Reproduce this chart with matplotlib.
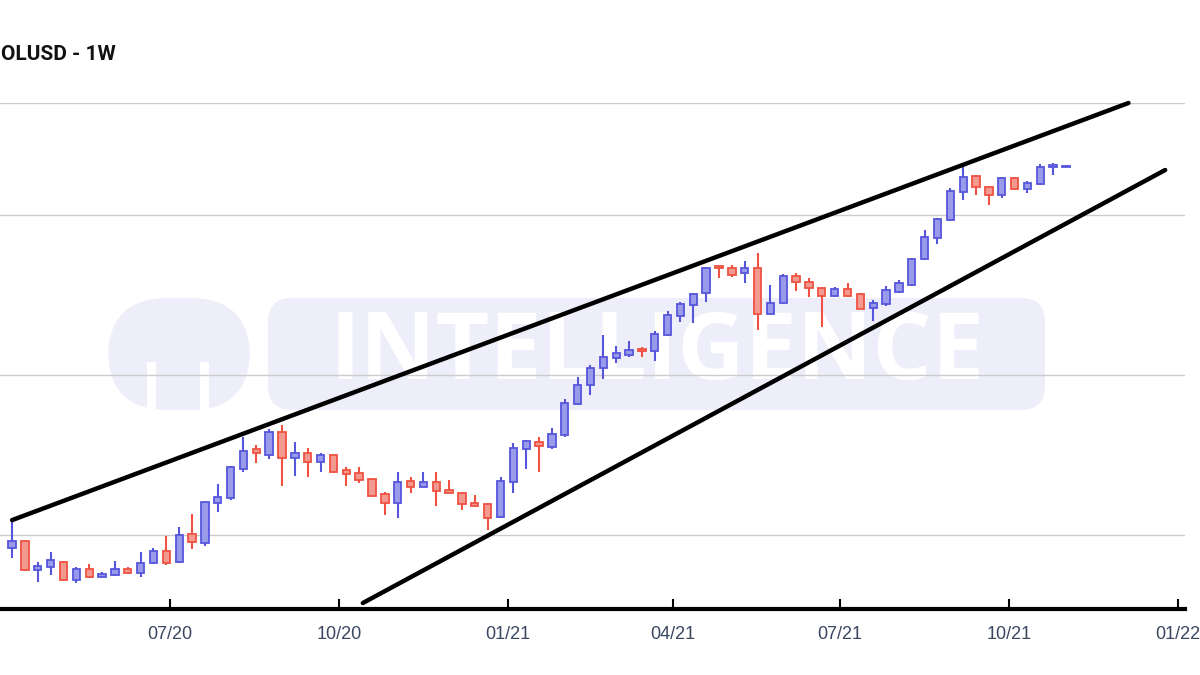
import matplotlib
matplotlib.use("Agg")
import matplotlib.pyplot as plt
import matplotlib.dates as mdates
from matplotlib.patches import FancyBboxPatch, Rectangle
from matplotlib.ticker import NullLocator, FixedLocator
import pandas as pd
import numpy as np

# ---------------- data ----------------
title = "OLUSD - 1W"
watermark = "INTELLIGENCE"
first_week = "2020-04-06"
n_weeks = 83

opens = [0.83, 0.92, 0.604, 0.631, 0.678, 0.523, 0.613, 0.546, 0.562, 0.613,
         0.579, 0.668, 0.794, 0.678, 1.014, 0.891, 1.585, 1.704, 2.587, 3.448,
         3.162, 4.404, 3.028, 3.255, 2.860, 3.162, 2.550, 2.442, 2.239, 1.804,
         1.585, 2.176, 1.995, 2.145, 1.911, 1.830, 1.585, 1.562, 1.296, 2.145,
         3.448, 3.813, 3.548, 4.217, 6.589, 8.660, 11.06, 12.77, 13.34, 14.54,
         14.13, 17.78, 23.37, 27.38, 32.56, 48.02, 46.65, 43.42, 46.65, 24.06,
         28.18, 41.58, 38.17, 35.00, 31.18, 34.50, 32.09, 26.23, 27.78, 33.04,
         36.52, 53.07, 71.82, 93.06, 139.2, 175.5, 149.6, 133.4, 170.5, 145.4,
         156.3, 199.5, 200.4]
highs = [1.24, 0.93, 0.678, 0.783, 0.688, 0.631, 0.659, 0.587, 0.688, 0.631,
         0.783, 0.829, 0.986, 1.122, 1.353, 1.631, 2.084, 2.700, 4.097, 3.652,
         4.599, 4.870, 3.813, 3.498, 3.255, 3.17, 2.661, 2.661, 2.25, 1.857,
         2.477, 2.305, 2.477, 2.477, 2.208, 1.857, 1.778, 1.585, 2.305, 3.758,
         3.925, 4.097, 4.666, 7.079, 9.716, 11.55, 17.78, 15.18, 16.31, 14.96,
         18.80, 25.12, 28.59, 32.56, 47.32, 48.70, 48.70, 51.52, 57.87, 36.52,
         42.80, 43.42, 40.39, 35.1, 35.52, 37.62, 32.56, 29.43, 36.03, 39.26,
         53.85, 80.59, 95.80, 147.5, 202.4, 177.8, 151.8, 173.0, 173.0, 163.2,
         208.4, 211.3, 205.4]
lows = [0.72, 0.595, 0.508, 0.562, 0.516, 0.501, 0.539, 0.545, 0.554, 0.570,
        0.546, 0.659, 0.649, 0.668, 0.818, 0.853, 1.392, 1.655, 2.477, 2.818,
        2.985, 2.024, 2.338, 2.305, 2.477, 2.442, 2.024, 2.114, 1.754, 1.334,
        1.277, 1.830, 1.99, 1.518, 1.830, 1.433, 1.518, 1.075, 1.277, 1.830,
        2.587, 2.477, 3.448, 4.097, 6.494, 7.499, 9.441, 11.88, 12.96, 12.96,
        12.23, 17.53, 21.43, 21.13, 28.59, 40.39, 40.98, 37.62, 19.07, 24.0,
        28.1, 33.52, 30.73, 19.95, 30.73, 30.73, 25.85, 21.75, 27.01, 32.56,
        36.03, 52.32, 65.87, 91.72, 124.1, 133.4, 115.5, 127.7, 145.0, 137.3,
        154.0, 177.8, 199.5]
closes = [0.92, 0.604, 0.64, 0.698, 0.523, 0.613, 0.546, 0.570, 0.613, 0.579,
          0.668, 0.794, 0.668, 1.0, 0.904, 1.608, 1.728, 2.661, 3.350, 3.255,
          4.404, 3.028, 3.255, 2.860, 3.162, 2.477, 2.407, 2.208, 1.76, 1.585,
          2.145, 1.995, 2.145, 1.884, 1.84, 1.562, 1.52, 1.277, 2.176, 3.498,
          3.868, 3.600, 4.279, 6.683, 8.660, 11.06, 12.96, 13.72, 14.33, 14.13,
          18.04, 23.71, 27.78, 32.09, 46.65, 46.65, 42.17, 46.65, 24.06, 28.18,
          41.58, 38.17, 35.00, 31.18, 34.50, 31.18, 25.9, 28.18, 34.00, 37.62,
          53.07, 72.85, 94.41, 141.3, 173.0, 149.6, 133.4, 170.5, 145.0, 158.5,
          199.5, 205.4, 203.3]

# trend lines (start/end date, start/end price)
upper_dates = ["2020-04-06", "2021-12-05"]
upper_prices = [1.24, 501.0]
lower_dates = ["2020-10-14", "2021-12-25"]
lower_prices = [0.376, 191.0]

tick_dates = ["2020-07-01", "2020-10-01", "2021-01-01", "2021-04-01",
              "2021-07-01", "2021-10-01", "2022-01-01"]
tick_labels = ["07/20", "10/20", "01/21", "04/21", "07/21", "10/21", "01/22"]
grid_levels = [1, 10, 100, 500]

# ---------------- style ----------------
BLUE_EDGE = "#5656dc"
BLUE_FILL = "#9a9aea"
RED_EDGE = "#ef5242"
RED_FILL = "#f39a90"
WM_COLOR = "#eeeefb"

W, H = 1200, 675
fig = plt.figure(figsize=(12, 6.75), dpi=100)
fig.patch.set_facecolor("white")

def fx(px):
    return px / W

def fy(py):
    return 1 - py / H

# watermark (behind axes)
wm = FancyBboxPatch((fx(268), fy(410)), fx(1045 - 268), (410 - 298) / H,
                    boxstyle="round,pad=0,rounding_size=0.02",
                    transform=fig.transFigure, facecolor=WM_COLOR,
                    edgecolor="none", zorder=0, mutation_aspect=W / H)
fig.patches.append(wm)
logo = FancyBboxPatch((fx(108), fy(410)), fx(250 - 108), (410 - 298) / H,
                      boxstyle="round,pad=0,rounding_size=0.05",
                      transform=fig.transFigure, facecolor=WM_COLOR,
                      edgecolor="none", zorder=0, mutation_aspect=W / H)
fig.patches.append(logo)
for gx in [(147, 156), (200, 209)]:
    fig.patches.append(Rectangle((fx(gx[0]), fy(410)), fx(gx[1] - gx[0]),
                                 (410 - 362) / H, transform=fig.transFigure,
                                 facecolor="white", edgecolor="none", zorder=0.5))
fig.text(fx(657), fy(355), watermark, ha="center", va="center",
         fontsize=67, fontweight="bold", family=["Open Sans", "DejaVu Sans"],
         color="white", zorder=1)

ax = fig.add_axes([0, fy(609), fx(1185), (609 - 103) / H])
ax.set_facecolor("none")
ax.set_zorder(2)

dates = pd.date_range(first_week, periods=n_weeks, freq="7D")
xd = mdates.date2num(dates.to_pydatetime())
o = np.array(opens); h = np.array(highs); l = np.array(lows); c = np.array(closes)
up = c >= o
edge = np.where(up, BLUE_EDGE, RED_EDGE)
fill = np.where(up, BLUE_FILL, RED_FILL)

ax.vlines(xd, l, h, colors=edge, linewidth=1.5, zorder=3)
bot = np.minimum(o, c)
top = np.maximum(o, c)
top = np.maximum(top, bot * 1.012)
ax.bar(xd, top - bot, bottom=bot, width=4.0, color=fill, edgecolor=edge,
       linewidth=1.3, zorder=4)

ax.plot(mdates.date2num(pd.to_datetime(upper_dates).to_pydatetime()), upper_prices,
        color="black", lw=3.2, solid_capstyle="round", zorder=5, clip_on=False)
ax.plot(mdates.date2num(pd.to_datetime(lower_dates).to_pydatetime()), lower_prices,
        color="black", lw=3.2, solid_capstyle="round", zorder=5, clip_on=False)

ax.set_yscale("log")
ax.set_ylim(0.345, 501)
ref = mdates.date2num(pd.Timestamp("2020-07-01").to_pydatetime())
ax.set_xlim(ref - 92.6, ref + 552.8)

ax.yaxis.set_major_locator(FixedLocator(grid_levels))
ax.yaxis.set_minor_locator(NullLocator())
ax.yaxis.grid(True, color="#cccccc", linewidth=1.0)
ax.tick_params(axis="y", left=False, labelleft=False)

ax.set_xticks(mdates.date2num(pd.to_datetime(tick_dates).to_pydatetime()))
ax.set_xticklabels(tick_labels)
ax.tick_params(axis="x", direction="in", length=7, width=1.5, color="black",
               labelsize=13, labelcolor="#3a4760", pad=12)
for lab in ax.get_xticklabels():
    lab.set_family(["Liberation Sans", "DejaVu Sans"])

for s in ["top", "left", "right"]:
    ax.spines[s].set_visible(False)
ax.spines["bottom"].set_linewidth(3)
ax.spines["bottom"].set_color("black")
ax.set_axisbelow(True)

fig.text(fx(1), fy(55), title, ha="left", va="center", fontsize=15,
         fontweight="bold", family=["Roboto", "DejaVu Sans"], color="#111111")

fig.savefig("out.png", dpi=100)
